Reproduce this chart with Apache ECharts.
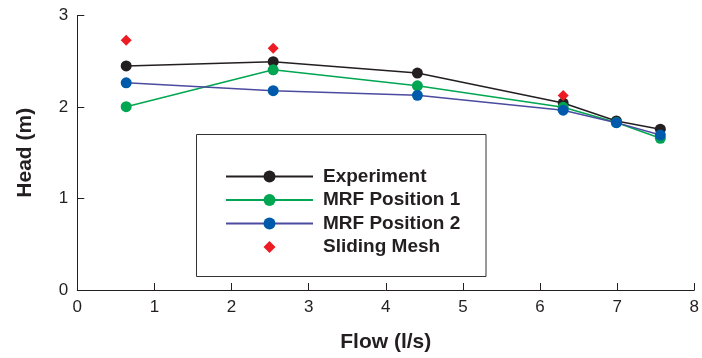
<!DOCTYPE html>
<html><head><meta charset="utf-8">
<script src="https://cdn.jsdelivr.net/npm/echarts@6/dist/echarts.min.js"></script>
<style>html,body{margin:0;padding:0;background:#fff}#c{width:702px;height:358px}</style>
</head><body><div id="c"></div>
<script>
const flow = [0.634, 2.54, 4.41, 6.30, 6.99, 7.56];
const experiment = [2.449, 2.495, 2.371, 2.043, 1.847, 1.757];
const mrf1 = [2.003, 2.406, 2.232, 1.997, 1.830, 1.658];
const mrf2 = [2.264, 2.178, 2.128, 1.965, 1.829, 1.693];
const slidingFlow = [0.634, 2.54, 6.30];
const sliding = [2.73, 2.642, 2.125];
const xTicks = [0,1,2,3,4,5,6,7,8];
const yTicks = [0,1,2,3];

const pair = (xs, ys) => xs.map((x, i) => [x, ys[i]]);
const txt = '#231f20';
const font = 'Liberation Sans, Arial, sans-serif';

const chart = echarts.init(document.getElementById('c'));
chart.setOption({
  animation: false,
  grid: {left: 77.3, right: 6, top: 15.5, bottom: 62},
  xAxis: {
    type: 'value', min: 0, max: 8, interval: 1,
    name: 'Flow (l/s)', nameLocation: 'middle', nameGap: 42,
    nameTextStyle: {fontFamily: font, fontWeight: 'bold', fontSize: 21, color: txt},
    axisLine: {lineStyle: {color: txt, width: 1}},
    axisTick: {inside: true, length: 7, lineStyle: {color: txt}},
    axisLabel: {fontFamily: font, fontSize: 17, color: txt, margin: 9,
      formatter: v => xTicks.includes(v) ? String(v) : ''},
    splitLine: {show: false}
  },
  yAxis: {
    type: 'value', min: 0, max: 3, interval: 1,
    name: 'Head (m)', nameLocation: 'middle', nameGap: 42,
    nameTextStyle: {fontFamily: font, fontWeight: 'bold', fontSize: 21, color: txt},
    axisLine: {show: true, lineStyle: {color: txt, width: 1}},
    axisTick: {show: true, inside: true, length: 7, lineStyle: {color: txt}},
    axisLabel: {fontFamily: font, fontSize: 17, color: txt, margin: 9,
      formatter: v => yTicks.includes(v) ? String(v) : ''},
    splitLine: {show: false}
  },
  legend: {
    orient: 'vertical', left: 220, top: 162, itemWidth: 87, itemHeight: 15, itemGap: 4.5,
    textStyle: {fontFamily: font, fontWeight: 'bold', fontSize: 19, color: txt, padding: [0,0,0,5]},
    data: ['Experiment', 'MRF Position 1', 'MRF Position 2', 'Sliding Mesh']
  },
  graphic: [{
    type: 'rect', shape: {x: 196.5, y: 134.5, width: 289.5, height: 142},
    style: {fill: 'none', stroke: '#333', lineWidth: 1}, z: 1
  }],
  series: [
    {name: 'Experiment', type: 'line', data: pair(flow, experiment), symbol: 'circle', symbolSize: 11,
      itemStyle: {color: '#231f20'}, lineStyle: {color: '#231f20', width: 1.5}, z: 5},
    {name: 'MRF Position 1', type: 'line', data: pair(flow, mrf1), symbol: 'circle', symbolSize: 11,
      itemStyle: {color: '#00a651'}, lineStyle: {color: '#00a651', width: 1.5}, z: 6},
    {name: 'MRF Position 2', type: 'line', data: pair(flow, mrf2), symbol: 'circle', symbolSize: 11,
      itemStyle: {color: '#005aab'}, lineStyle: {color: '#4b4b9f', width: 1.5}, z: 7},
    {name: 'Sliding Mesh', type: 'line', data: pair(slidingFlow, sliding), symbol: 'diamond', symbolSize: 11,
      itemStyle: {color: '#ed1c24'}, lineStyle: {width: 0, opacity: 0}, z: 8}
  ]
});
</script></body></html>
